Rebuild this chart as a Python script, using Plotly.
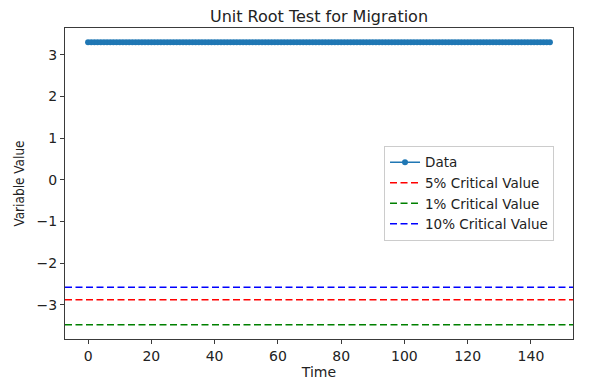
import plotly.graph_objects as go

# Data
time_index = list(range(147))
data_values = [3.3] * 147
crit_labels = ["5% Critical Value", "1% Critical Value", "10% Critical Value"]
crit_values = [-2.88, -3.48, -2.58]
crit_colors = ["red", "green", "blue"]
x_ticks = [0, 20, 40, 60, 80, 100, 120, 140]
y_ticks = [-3, -2, -1, 0, 1, 2, 3]

font_main = "DejaVu Sans, Arial, sans-serif"
axis_color = "#3a3a3a"

# page body has an 8px default margin; size the figure to fill the rest
W, H = 588, 374

fig = go.Figure()
fig.add_trace(go.Scatter(
    x=time_index, y=data_values, mode="lines+markers", name="Data",
    line=dict(color="#1f77b4", width=1.5),
    marker=dict(color="#1f77b4", size=6),
))

for label, val, col in zip(crit_labels, crit_values, crit_colors):
    fig.add_shape(
        type="line", xref="x domain", yref="y", x0=0, x1=1, y0=val, y1=val,
        line=dict(color=col, width=1.5, dash="7px,3.5px"),
        showlegend=True, name=label,
    )

span = max(time_index) - min(time_index)
ymax = max(data_values)
ymin = min(crit_values)
yspan = ymax - ymin

fig.update_layout(
    width=W, height=H,
    paper_bgcolor="white", plot_bgcolor="white",
    margin=dict(l=57, r=23, t=20, b=43, autoexpand=False),
    font=dict(family=font_main, size=14, color="#222"),
    title=dict(text="Unit Root Test for Migration", x=(57 + (W - 80) / 2) / W, xanchor="center",
               y=1 - 3 / H, yanchor="top", pad=dict(t=0, b=0),
               font=dict(size=16, family=font_main, color="#222")),
    showlegend=True,
    legend=dict(x=0.628, y=0.621, xanchor="left", yanchor="top",
                bgcolor="rgba(255,255,255,0.8)", bordercolor="#cccccc", borderwidth=1,
                font=dict(size=13.5, family=font_main, color="#222"),
                tracegroupgap=0, itemwidth=30),
    xaxis=dict(
        range=[min(time_index) - 0.05 * span, max(time_index) + 0.05 * span],
        tickvals=x_ticks, ticks="outside", ticklen=4, tickcolor=axis_color,
        showline=True, linecolor=axis_color, linewidth=1.2, mirror=True,
        showgrid=False, zeroline=False, automargin=False,
        title=dict(text="Time", standoff=0, font=dict(size=14)),
        tickfont=dict(size=14),
    ),
    yaxis=dict(
        range=[ymin - 0.05 * yspan, ymax + 0.05 * yspan],
        tickvals=y_ticks, ticks="outside", ticklen=4, tickcolor=axis_color,
        showline=True, linecolor=axis_color, linewidth=1.2, mirror=True,
        showgrid=False, zeroline=False, automargin=False,
        title=dict(text="Variable Value", standoff=8,
                   font=dict(size=13.5, family="DejaVu Sans Condensed, Liberation Sans Narrow, sans-serif")),
        tickfont=dict(size=14),
    ),
)

fig.write_html("out.html")
